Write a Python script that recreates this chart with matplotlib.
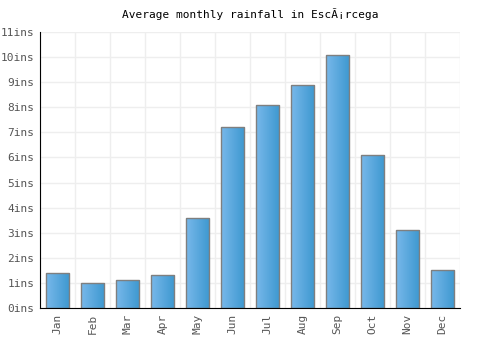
import numpy as np
import matplotlib.pyplot as plt
from matplotlib.colors import LinearSegmentedColormap

months = ["Jan", "Feb", "Mar", "Apr", "May", "Jun",
          "Jul", "Aug", "Sep", "Oct", "Nov", "Dec"]
rainfall = [1.4, 1.0, 1.1, 1.3, 3.6, 7.2, 8.1, 8.9, 10.1, 6.1, 3.1, 1.5]
yticks = list(range(0, 12))
ytick_labels = [f"{v}ins" for v in yticks]

plt.rcParams['font.family'] = ['DejaVu Sans Mono']

fig = plt.figure(figsize=(5, 3.5), dpi=100)
ax = fig.add_axes([0.08, 0.12, 0.84, 0.7886])

x = np.arange(len(months))
bars = ax.bar(x, rainfall, width=0.66, color='none', edgecolor='#7f7f7f',
              linewidth=1.0, zorder=3)

# horizontal gradient fill, light on the left, darker on the right
cmap = LinearSegmentedColormap.from_list("rain", ["#78b8ea", "#3d98d0"])
grad = np.linspace(0, 1, 64).reshape(1, -1)
for bar in bars:
    bx, by = bar.get_x(), bar.get_y()
    bw, bh = bar.get_width(), bar.get_height()
    im = ax.imshow(grad, cmap=cmap, aspect='auto',
                   extent=[bx, bx + bw, by, by + bh], zorder=2)
    im.set_clip_path(bar)

ax.set_xlim(-0.5, len(months) - 0.5)
ax.set_ylim(0, 11)

ax.set_yticks(yticks)
ax.set_yticklabels(ytick_labels)
ax.set_xticks(x)
ax.set_xticklabels(months, rotation=90)
ax.tick_params(axis='both', length=0, labelsize=8, colors='#555555', pad=4)

ax.set_xticks(np.arange(-0.5, len(months)), minor=True)
ax.tick_params(axis='x', which='minor', length=0)
ax.grid(True, axis='y', which='major', color='#eeeeee', linewidth=1, zorder=0)
ax.grid(True, axis='x', which='minor', color='#eeeeee', linewidth=1, zorder=0)
ax.grid(False, axis='x', which='major')
ax.set_axisbelow(True)

for side in ['top', 'right']:
    ax.spines[side].set_visible(False)
ax.spines['left'].set_color('black')
ax.spines['bottom'].set_color('black')
ax.spines['left'].set_zorder(4)
ax.spines['bottom'].set_zorder(4)

ax.set_title("Average monthly rainfall in EscÃ¡rcega", fontsize=8,
             color='black', pad=10)

fig.savefig("out.png", dpi=100)
